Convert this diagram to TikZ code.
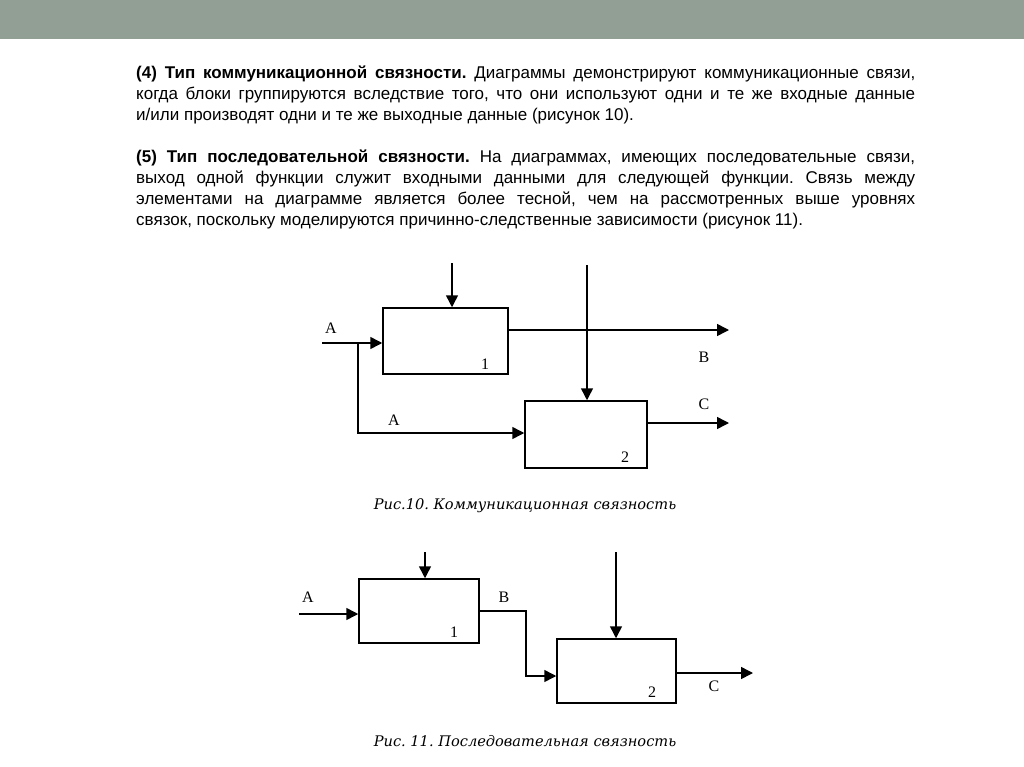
\documentclass[tikz,border=0pt]{standalone}
\usepackage{fontspec}
\setmainfont{Liberation Sans}
\newfontfamily\lblfont{Liberation Serif}
\newfontfamily\capfont{DejaVu Serif}
\usetikzlibrary{arrows.meta}
\frenchspacing
\begin{document}
\begin{tikzpicture}[x=1pt,y=-1pt,
  blk/.style={draw, line width=1.5pt, inner sep=0pt},
  conn/.style={line width=1.5pt},
  arr/.style={conn, -{Triangle[length=12pt,width=12pt]}},
  lbl/.style={font=\lblfont\fontsize{16}{16}\selectfont, inner sep=0pt},
  figcap/.style={font=\capfont\itshape\fontsize{14.6}{16}\selectfont, inner sep=0pt},
  body/.style={font=\fontsize{17}{21}\selectfont, inner sep=0pt, anchor=north west, align=justify, text width=779pt}
]
\useasboundingbox (0,0) rectangle (1024,767);
\fill[white] (0,0) rectangle (1024,767);
\fill[fill={rgb,255:red,145;green,159;blue,149}] (0,0) rectangle (1024,39);

% text
\node[body] (txt) at (136,66) {%
\textbf{(4) Тип коммуникационной связности.} Диаграммы демонстрируют коммуникационные связи,\linebreak
когда блоки группируются вследствие того, что они используют одни и те же входные данные\linebreak
и/или производят одни и те же выходные данные (рисунок 10).\par\vspace{21pt}
\textbf{(5) Тип последовательной связности.} На диаграммах, имеющих последовательные связи,\linebreak
выход одной функции служит входными данными для следующей функции. Связь между\linebreak
элементами на диаграмме является более тесной, чем на рассмотренных выше уровнях\linebreak
связок, поскольку моделируются причинно-следственные зависимости (рисунок 11).};

% ---------- Figure 10 ----------
\node[blk, minimum width=125pt, minimum height=66pt] (a1) at (445.5,341) {};
\node[blk, minimum width=122pt, minimum height=67pt] (a2) at (586,434.5) {};
\coordinate (a1top) at (452,263);
\coordinate (a2top) at (587,265);
\coordinate (ain) at (322,343);
\coordinate (abr) at (358,343);
\coordinate (abot) at (358,433);
\coordinate (bout) at (729,330);
\coordinate (cout) at (729,423);
\draw[arr] (a1top) -- (a1top |- a1.north);
\draw[arr] (a2top) -- (a2top |- a2.north);
\draw[arr] (ain) -- (ain -| a1.west);
\draw[arr] (abr) -- (abot) -- (abot -| a2.west);
\draw[arr] (bout -| a1.east) -- (bout);
\draw[arr] (cout -| a2.east) -- (cout);
\node[lbl] (la1) at (331,328) {A};
\node[lbl] (la2) at (394,420) {A};
\node[lbl] (lb) at (704,357) {B};
\node[lbl] (lc) at (704,404) {C};
\node[lbl] (n1) at (485,364) {1};
\node[lbl] (n2) at (625,457) {2};
\node[figcap] (cap1) at (525,506) {Рис.10. Коммуникационная связность};

% ---------- Figure 11 ----------
\node[blk, minimum width=120pt, minimum height=64pt] (b1) at (419,611) {};
\node[blk, minimum width=119pt, minimum height=64pt] (b2) at (616.5,671) {};
\coordinate (b1top) at (425,552);
\coordinate (b2top) at (616,552);
\coordinate (bin) at (299,614);
\coordinate (bm1) at (526,611);
\coordinate (bm2) at (526,676);
\coordinate (bcout) at (753,673);
\draw[arr] (b1top) -- (b1top |- b1.north);
\draw[arr] (b2top) -- (b2top |- b2.north);
\draw[arr] (bin) -- (bin -| b1.west);
\draw[arr] (bm1 -| b1.east) -- (bm1) -- (bm2) -- (bm2 -| b2.west);
\draw[arr] (bcout -| b2.east) -- (bcout);
\node[lbl] (lba) at (308,597) {A};
\node[lbl] (lbb) at (504,597) {B};
\node[lbl] (lbc) at (714,686) {C};
\node[lbl] (m1) at (454,632) {1};
\node[lbl] (m2) at (652,692) {2};
\node[figcap] (cap2) at (525,741) {Рис. 11. Последовательная связность};
\end{tikzpicture}
\end{document}
